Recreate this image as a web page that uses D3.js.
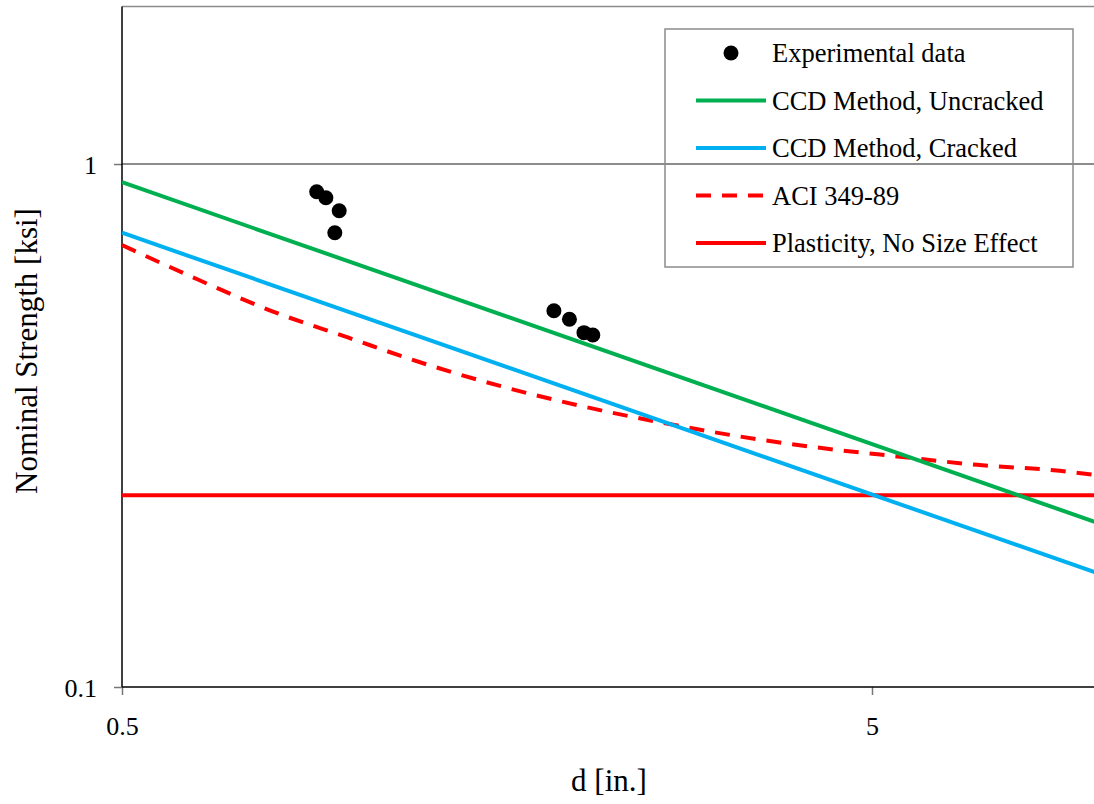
<!DOCTYPE html>
<html>
<head>
<meta charset="utf-8">
<script src="https://cdn.jsdelivr.net/npm/d3@7"></script>
<style>
  html, body { margin: 0; padding: 0; background: #fff; }
  svg { display: block; font-family: "Liberation Serif", "Times New Roman", serif; }
</style>
</head>
<body>
<svg id="chart" width="1094" height="804"></svg>
<script>
// ---- data ----
const xTicks = [0.5, 5];
const yTicks = [0.1, 1];
const expD = [0.909, 0.935, 0.974, 0.961, 1.883, 1.975, 2.065, 2.122];
const expStrength = [0.885, 0.862, 0.814, 0.739, 0.524, 0.505, 0.476, 0.471];
const ccdUncrackedD = [0.5, 10];
const ccdUncracked = [0.923, 0.206];
const ccdCrackedD = [0.5, 10];
const ccdCracked = [0.739, 0.165];
const aciD = [0.5, 0.63, 0.79, 1.0, 1.26, 1.6, 2.04, 2.6, 3.3, 4.23, 5.4, 6.9, 8.9, 10];
const aci = [0.700, 0.602, 0.524, 0.466, 0.416, 0.376, 0.345, 0.321, 0.302, 0.287, 0.276, 0.266, 0.259, 0.254];
const plasticityD = [0.5, 10];
const plasticity = [0.2325, 0.2325];
const legendLabels = ["Experimental data", "CCD Method, Uncracked", "CCD Method, Cracked", "ACI 349-89", "Plasticity, No Size Effect"];

(function () {
// ---- layout ----
const svg = d3.select("#chart");
const mLeft = 122, mTop = 6.6, mBottom = 687;
const x = d3.scaleLog().domain([0.5, 10]).range([mLeft, mLeft + 750 * Math.log10(20)]);
const y = d3.scaleLog().domain([0.1, 2]).range([mBottom, mTop]);
const mRight = x.range()[1];

const green = "#00B050", cyan = "#00B0F0", red = "#FF0000";

svg.append("defs").append("clipPath").attr("id", "clip")
  .append("rect").attr("x", mLeft).attr("y", mTop).attr("width", mRight - mLeft).attr("height", mBottom - mTop);

// top border
svg.append("line").attr("x1", mLeft).attr("x2", mRight).attr("y1", mTop).attr("y2", mTop)
  .attr("stroke", "#8c8c8c").attr("stroke-width", 1.5);

// gridline at 1
svg.append("line").attr("x1", mLeft).attr("x2", mRight).attr("y1", y(1)).attr("y2", y(1))
  .attr("stroke", "#8c8c8c").attr("stroke-width", 2);

// axes
const yAxis = svg.append("g").attr("transform", `translate(${mLeft},0)`)
  .call(d3.axisLeft(y).tickValues(yTicks).tickFormat(d => d === 1 ? "1" : "0.1").tickSize(8).tickPadding(17));
yAxis.select(".domain").remove();
yAxis.selectAll(".tick line").attr("stroke", "#777").attr("stroke-width", 1.5);
yAxis.selectAll(".tick text").attr("font-size", 26).attr("fill", "#000")
  .attr("font-family", "Liberation Serif, Times New Roman, serif").attr("dy", "0.35em");

const xAxis = svg.append("g").attr("transform", `translate(0,${mBottom})`)
  .call(d3.axisBottom(x).tickValues(xTicks).tickFormat(d => d === 5 ? "5" : "0.5").tickSize(8).tickPadding(22));
xAxis.select(".domain").remove();
xAxis.selectAll(".tick line").attr("stroke", "#777").attr("stroke-width", 1.5);
xAxis.selectAll(".tick text").attr("font-size", 26).attr("fill", "#000")
  .attr("font-family", "Liberation Serif, Times New Roman, serif");

// axis lines
svg.append("line").attr("x1", mLeft).attr("x2", mLeft).attr("y1", mTop).attr("y2", mBottom)
  .attr("stroke", "#000").attr("stroke-width", 1.5);
svg.append("line").attr("x1", mLeft).attr("x2", mRight).attr("y1", mBottom).attr("y2", mBottom)
  .attr("stroke", "#000").attr("stroke-width", 1.5);

// series
const plot = svg.append("g").attr("clip-path", "url(#clip)");
const line = d3.line().x(d => x(d[0])).y(d => y(d[1]));
const zip = (a, b) => a.map((v, i) => [v, b[i]]);

plot.append("path").datum(zip(plasticityD, plasticity)).attr("d", line)
  .attr("fill", "none").attr("stroke", red).attr("stroke-width", 4);
plot.append("path").datum(zip(aciD, aci)).attr("d", d3.line().curve(d3.curveMonotoneX).x(d => x(d[0])).y(d => y(d[1])))
  .attr("fill", "none").attr("stroke", red).attr("stroke-width", 4).attr("stroke-dasharray", "15,11");
plot.append("path").datum(zip(ccdCrackedD, ccdCracked)).attr("d", line)
  .attr("fill", "none").attr("stroke", cyan).attr("stroke-width", 4);
plot.append("path").datum(zip(ccdUncrackedD, ccdUncracked)).attr("d", line)
  .attr("fill", "none").attr("stroke", green).attr("stroke-width", 4);
plot.selectAll("circle.exp").data(zip(expD, expStrength)).enter().append("circle")
  .attr("class", "exp").attr("cx", d => x(d[0])).attr("cy", d => y(d[1])).attr("r", 7.5).attr("fill", "#000");

// axis titles
svg.append("text").attr("x", 609).attr("y", 791).attr("text-anchor", "middle")
  .attr("font-size", 31).text("d [in.]");
svg.append("text").attr("transform", "translate(37,351) rotate(-90)").attr("text-anchor", "middle")
  .attr("font-size", 31).text("Nominal Strength [ksi]");

// legend
const lg = svg.append("g");
lg.append("rect").attr("x", 665).attr("y", 29).attr("width", 408).attr("height", 238)
  .attr("fill", "none").attr("stroke", "#8c8c8c").attr("stroke-width", 1.5);
const rowY = i => 53 + i * 47.5;
const styles = [
  null,
  { c: green, dash: null },
  { c: cyan, dash: null },
  { c: red, dash: "15,11" },
  { c: red, dash: null }
];
legendLabels.forEach((lab, i) => {
  if (i === 0) {
    lg.append("circle").attr("cx", 731).attr("cy", rowY(i)).attr("r", 7.5).attr("fill", "#000");
  } else {
    const l = lg.append("line").attr("x1", 696).attr("x2", 766).attr("y1", rowY(i)).attr("y2", rowY(i))
      .attr("stroke", styles[i].c).attr("stroke-width", 4);
    if (styles[i].dash) l.attr("stroke-dasharray", styles[i].dash);
  }
  lg.append("text").attr("x", 772).attr("y", rowY(i)).attr("dy", "0.35em")
    .attr("font-size", 26.5).text(lab);
});
})();
</script>
</body>
</html>
